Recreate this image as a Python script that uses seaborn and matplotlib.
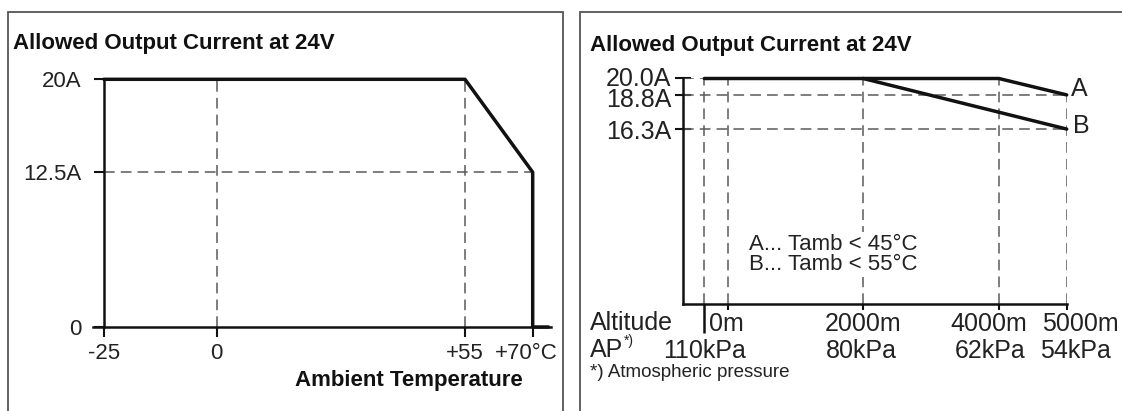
import seaborn as sns
import pandas as pd
import numpy as np
import matplotlib.pyplot as plt
from matplotlib.patches import Rectangle
from matplotlib.transforms import ScaledTranslation

# left chart: output current vs ambient temperature
temp_c = [-25, 55, 70, 70, 73.5]
temp_current = [20, 20, 12.5, 0, 0]
temp_xticks = [-25, 0, 55, 70]
temp_xticklabels = ['-25', '0', '+55', '+70°C']
temp_yticks = [0, 12.5, 20]
temp_yticklabels = ['0', '12.5A', '20A']

# right chart: output current vs altitude
alt_a = [-342, 4000, 5000]
cur_a = [20, 20, 18.8]
alt_b = [2000, 5000]
cur_b = [20, 16.3]
ap_pos = -342
alt_xticks = [0, 2000, 4000, 5000]
alt_labels = ['0m', '2000m', '4000m', '5000m']
ap_xpos = [-342, 2000, 4000, 5000]
ap_labels = ['110kPa', '80kPa', '62kPa', '54kPa']
alt_yticks = [16.3, 18.8, 20.0]
alt_yticklabels = ['16.3A', '18.8A', '20.0A']

sns.set_style('white')
plt.rcParams['font.family'] = ['Liberation Sans', 'DejaVu Sans']

W, H = 1122, 411
fig = plt.figure(figsize=(W / 100, H / 100), dpi=100)


def rect(x0, y_top, w, h):
    # pixel box (top-left origin) -> figure fraction
    return [x0 / W, (H - y_top - h) / H, w / W, h / H]


def nudge(label, dx_px, dy_px):
    label.set_transform(label.get_transform() +
                        ScaledTranslation(dx_px / 100, dy_px / 100, fig.dpi_scale_trans))


# panel frames
for x0, x1 in [(8, 563), (580, 1130)]:
    fig.add_artist(Rectangle((x0 / W, -0.1), (x1 - x0) / W, (H - 12) / H + 0.1,
                             transform=fig.transFigure, fill=False,
                             edgecolor='#555555', lw=1.3))

DASH = dict(color='#5a5a5a', lw=1.1, linestyles=(0, (7, 4)))
BLACK = '#111111'

# ---------------- left chart ----------------
ax1 = fig.add_axes(rect(92.6, 79.3, 460.4, 247.7))
ax1.set_xlim(-27.5, 74.5)
ax1.set_ylim(0, 20)
ax1.vlines([0, 55], 0, 20, **DASH)
ax1.hlines(12.5, -25, 70, **DASH)
df_t = pd.DataFrame({'temp': temp_c, 'current': temp_current})
sns.lineplot(data=df_t, x='temp', y='current', sort=False, color=BLACK, lw=2.5,
             ax=ax1, estimator=None)
for ln in ax1.lines:
    ln.set_clip_on(False)
for s in ['top', 'right']:
    ax1.spines[s].set_visible(False)
ax1.spines['left'].set_position(('data', -25))
ax1.spines['left'].set_bounds(0, 20)
ax1.spines['bottom'].set_bounds(-27.5, 74)
for s in ['left', 'bottom']:
    ax1.spines[s].set_color(BLACK)
    ax1.spines[s].set_linewidth(1.8)
ax1.set_xticks(temp_xticks, temp_xticklabels)
ax1.set_yticks(temp_yticks, temp_yticklabels)
ax1.tick_params(axis='both', direction='out', length=7.2, width=1.5, color=BLACK,
                labelsize=16, labelcolor='#222222', bottom=True, left=True)
ax1.tick_params(axis='y', pad=9)
ax1.tick_params(axis='x', pad=4)
ax1.set_xlabel('')
ax1.set_ylabel('')
nudge(ax1.get_xticklabels()[-1], -6, 0)
fig.text(13 / W, 1 - 43 / H, 'Allowed Output Current at 24V', fontsize=16,
         fontweight='bold', va='center', ha='left', color='#111111')
fig.text(409 / W, 1 - 380 / H, 'Ambient Temperature', fontsize=16,
         fontweight='bold', va='center', ha='center', color='#111111')

# ---------------- right chart ----------------
ax2 = fig.add_axes(rect(682.7, 78.5, 384, 225.5))
ax2.set_xlim(-661, 5000)
ax2.set_ylim(3.5, 20)
ax2.vlines([ap_pos, 0, 2000, 4000], 3.5, 20, **DASH)
ax2.vlines(5000, 3.5, 18.8, **DASH)
ax2.hlines(20.0, -661, ap_pos, **DASH)
ax2.hlines([18.8, 16.3], -661, 5000, **DASH)
df_a = pd.DataFrame({'alt': alt_a, 'current': cur_a})
df_b = pd.DataFrame({'alt': alt_b, 'current': cur_b})
sns.lineplot(data=df_a, x='alt', y='current', color=BLACK, lw=2.5, ax=ax2)
sns.lineplot(data=df_b, x='alt', y='current', color=BLACK, lw=2.5, ax=ax2)
for ln in ax2.lines:
    ln.set_clip_on(False)
for s in ['top', 'right']:
    ax2.spines[s].set_visible(False)
for s in ['left', 'bottom']:
    ax2.spines[s].set_color(BLACK)
    ax2.spines[s].set_linewidth(1.8)
ax2.set_xlabel('')
ax2.set_ylabel('')
ax2.set_yticks(alt_yticks, alt_yticklabels)
ax2.tick_params(axis='y', direction='inout', length=12, width=1.5, color=BLACK,
                labelsize=18, labelcolor='#222222', pad=2, left=True)
ax2.set_xticks(alt_xticks, [''] * len(alt_xticks))
ax2.set_xticks([ap_pos], [''], minor=True)
ax2.tick_params(axis='x', which='major', direction='out', length=4, width=1.5,
                color=BLACK, bottom=True)
ax2.tick_params(axis='x', which='minor', direction='out', length=21, width=1.8,
                color=BLACK, bottom=True)
# spread the crowded top labels apart a little, like the reference
ylabs = ax2.get_yticklabels()
nudge(ylabs[0], 0, 0)
nudge(ylabs[1], 0, -3)
nudge(ylabs[2], 0, 2.5)

row1 = [(ap_pos, 3.6, 'left'), (2000, 0, 'center'), (4000, -7.5, 'center'),
        (5000, 10, 'center')]
for (x, dx, ha), lab in zip(row1, alt_labels):
    ax2.annotate(lab, xy=(x, 0), xycoords=('data', 'axes fraction'),
                 xytext=(dx, -14.5), textcoords='offset points', ha=ha,
                 va='center', fontsize=18, color='#222222')
row2_dx = [0, -1, -6.5, 6]
for x, dx, lab in zip(ap_xpos, row2_dx, ap_labels):
    ax2.annotate(lab, xy=(x, 0), xycoords=('data', 'axes fraction'),
                 xytext=(dx, -33.5), textcoords='offset points', ha='center',
                 va='center', fontsize=18, color='#222222')

ax2.annotate('A', xy=(5000, 18.8), xytext=(3, 4.5), textcoords='offset points',
             ha='left', va='center', fontsize=18, color='#222222')
ax2.annotate('B', xy=(5000, 16.3), xytext=(4.5, 2), textcoords='offset points',
             ha='left', va='center', fontsize=18, color='#222222')
ax2.text(0.173, 0.22, 'A... Tamb < 45°C\nB... Tamb < 55°C', transform=ax2.transAxes,
         ha='left', va='center', fontsize=16, linespacing=0.98, color='#222222',
         bbox=dict(facecolor='white', edgecolor='none', pad=1))

fig.text(590 / W, 1 - 45 / H, 'Allowed Output Current at 24V', fontsize=16,
         fontweight='bold', va='center', ha='left', color='#111111')
fig.text(590 / W, 1 - 323 / H, 'Altitude', fontsize=18, va='center', ha='left',
         color='#222222')
fig.text(590 / W, 1 - 350 / H, 'AP', fontsize=18, va='center', ha='left',
         color='#222222')
fig.text(624 / W, 1 - 341 / H, '*)', fontsize=10, va='center', ha='left',
         color='#222222')
fig.text(590 / W, 1 - 372 / H, '*) Atmospheric pressure', fontsize=13.5,
         va='center', ha='left', color='#222222')

fig.savefig('out.png', dpi=100, facecolor='white')
